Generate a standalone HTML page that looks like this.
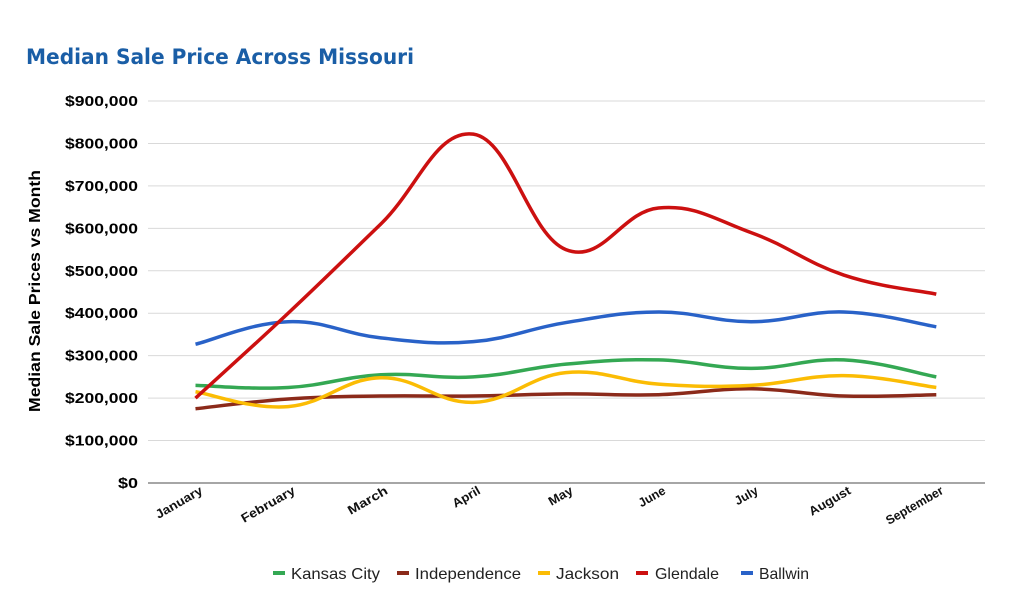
<!DOCTYPE html>
<html><head><meta charset="utf-8"><style>
body{margin:0;background:#fff;}
svg{display:block;font-family:"Liberation Sans",Arial,sans-serif;}
</style></head><body>
<svg id="s" width="1024" height="603" viewBox="0 0 1024 603">
<text x="26" y="64" font-size="21" font-weight="bold" fill="#1a5ea6" font-family="DejaVu Sans, sans-serif" textLength="388" lengthAdjust="spacingAndGlyphs">Median Sale Price Across Missouri</text>
<g id="grid"></g>
<text transform="translate(40,291) rotate(-90)" text-anchor="middle" font-size="16" font-weight="bold" fill="#000" textLength="242" lengthAdjust="spacingAndGlyphs">Median Sale Prices vs Month</text>
<g id="series"></g>
<g font-size="16" fill="#222">
<rect x="273" y="571" width="12" height="4" fill="#34a853"/><text x="291" y="579" textLength="89" lengthAdjust="spacingAndGlyphs">Kansas City</text>
<rect x="397" y="571" width="12" height="4" fill="#8b2a1a"/><text x="415" y="579" textLength="106" lengthAdjust="spacingAndGlyphs">Independence</text>
<rect x="538" y="571" width="12" height="4" fill="#fbbc04"/><text x="556" y="579" textLength="63" lengthAdjust="spacingAndGlyphs">Jackson</text>
<rect x="636" y="571" width="12" height="4" fill="#cc1010"/><text x="655" y="579" textLength="64" lengthAdjust="spacingAndGlyphs">Glendale</text>
<rect x="741" y="571" width="12" height="4" fill="#2962c8"/><text x="759" y="579" textLength="50" lengthAdjust="spacingAndGlyphs">Ballwin</text>
</g>
</svg>
<script>
var ns="http://www.w3.org/2000/svg";
function el(t,a,p,txt){var e=document.createElementNS(ns,t);for(var k in a)e.setAttribute(k,a[k]);if(txt)e.textContent=txt;p.appendChild(e);return e;}
var g=document.getElementById('grid');
function Y(v){return 483-v*0.4244;}
for(var i=0;i<=9;i++){var y=Y(i*100);
 el('line',{x1:148,x2:985,y1:y,y2:y,stroke:i==0?'#888':'#d9d9d9','stroke-width':i==0?1.5:1},g);
 var lab='$'+(i==0?'0':i*100+',000');
 var a={x:138,y:y+5,'text-anchor':'end','font-size':15,'font-weight':'bold',fill:'#000'};
 if(i>0){a.textLength=i==9?73:73;a.lengthAdjust='spacingAndGlyphs';} else {a.textLength=20;a.lengthAdjust='spacingAndGlyphs';}
 el('text',a,g,lab);}
var months=['January','February','March','April','May','June','July','August','September'];
var lens=[52,60,44,30,26,29,25,46,64];
function X(i){return 195.5+i*92.6;}
months.forEach(function(m,i){el('text',{transform:'translate('+(X(i)+8)+',493) rotate(-30)','text-anchor':'end','font-size':12.5,'font-weight':'bold',fill:'#111',textLength:lens[i],lengthAdjust:'spacingAndGlyphs'},g,m);});
var data=[
['#34a853',[230,225,255,250,280,290,270,290,250]],
['#8b2a1a',[175,198,205,205,210,208,222,205,208]],
['#fbbc04',[215,180,248,190,260,233,230,253,225]],
['#2962c8',[327,380,342,333,378,403,380,403,368]],
['#cc1010',[200,400,610,822,550,648,590,490,445]]];
var s=document.getElementById('series');
data.forEach(function(d){
 var p=d[1].map(function(v,i){return [X(i),Y(v)];});
 var str='M'+p[0][0]+','+p[0][1];
 for(var i=0;i<p.length-1;i++){
  var p0=p[Math.max(i-1,0)],p1=p[i],p2=p[i+1],p3=p[Math.min(i+2,p.length-1)];
  var t=0.2;
  var c1=[p1[0]+(p2[0]-p0[0])*t,p1[1]+(p2[1]-p0[1])*t];
  var c2=[p2[0]-(p3[0]-p1[0])*t,p2[1]-(p3[1]-p1[1])*t];
  str+=' C'+c1+' '+c2+' '+p2;}
 el('path',{d:str,fill:'none',stroke:d[0],'stroke-width':3.5,'stroke-linejoin':'round'},s);
});
</script>
</body></html>
